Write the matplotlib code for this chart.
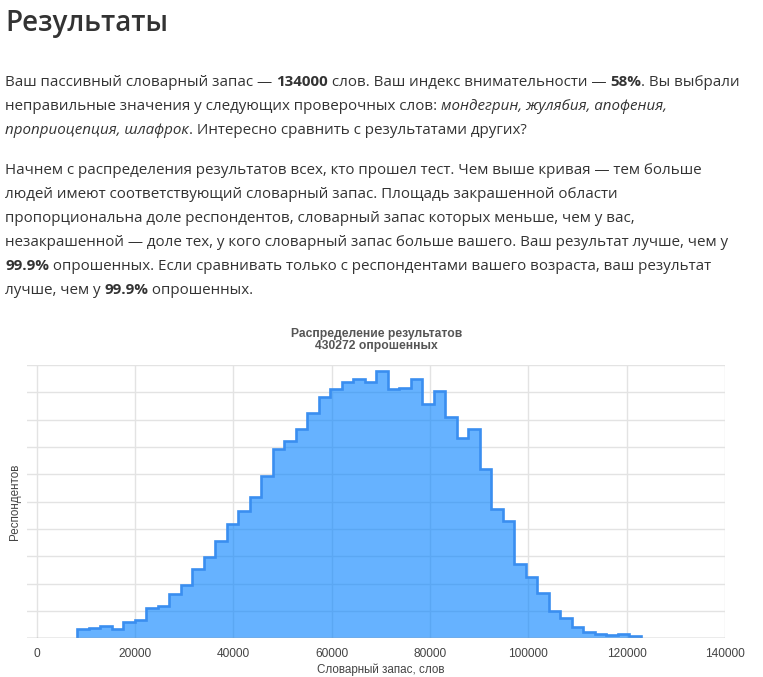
import matplotlib
matplotlib.use("Agg")
import matplotlib.pyplot as plt
import numpy as np

W, H = 763, 677

# --- data ----------------------------------------------------------------
BIN_START = 8250
BIN_WIDTH = 2340
respondents = [
    660, 740, 880, 700, 1220, 1320, 2200, 2360, 3260, 3920,
    5040, 5920, 7120, 8340, 9340, 10340, 11860, 13820, 14460, 15340,
    16520, 17680, 18220, 18740, 18980, 18740, 19580, 18220, 18340, 19000,
    17140, 18120, 16220, 14640, 15300, 12420, 9460, 8600, 5440, 4520,
    3300, 2020, 1460, 800, 440, 340, 220, 300, 200,
]
x_ticks = [0, 20000, 40000, 60000, 80000, 100000, 120000, 140000]
y_grid = list(range(0, 20001, 2000))

HEADING = "Результаты"
N = "normal"
B = "bold"
I = "italic"
para1 = [
    [("Ваш пассивный словарный запас — ", N), ("134000", B),
     (" слов. Ваш индекс внимательности — ", N), ("58%", B), (". Вы выбрали", N)],
    [("неправильные значения у следующих проверочных слов: ", N),
     ("мондегрин, жулябия, апофения,", I)],
    [("проприоцепция, шлафрок", I), (". Интересно сравнить с результатами других?", N)],
]
para2 = [
    [("Начнем с распределения результатов всех, кто прошел тест. Чем выше кривая — тем больше", N)],
    [("людей имеют соответствующий словарный запас. Площадь закрашенной области", N)],
    [("пропорциональна доле респондентов, словарный запас которых меньше, чем у вас,", N)],
    [("незакрашенной — доле тех, у кого словарный запас больше вашего. Ваш результат лучше, чем у", N)],
    [("99.9%", B), (" опрошенных. Если сравнивать только с респондентами вашего возраста, ваш результат", N)],
    [("лучше, чем у ", N), ("99.9%", B), (" опрошенных.", N)],
]
CHART_TITLE = "Распределение результатов\n430272 опрошенных"
X_LABEL = "Словарный запас, слов"
Y_LABEL = "Респондентов"

TEXT_C = "#333333"
FILL_C = "#0080ff"
EDGE_C = "#3a8ef0"
GRID_C = "#e3e3e3"
TICK_C = "#444444"

fig = plt.figure(figsize=(W / 100, H / 100), dpi=100)
fig.patch.set_facecolor("white")
renderer = fig.canvas.get_renderer()


def fx(px):
    return px / W


def fy(py):
    return 1 - py / H


def text_width(s, **kw):
    # sentinel bars keep leading/trailing spaces in the measurement
    t1 = fig.text(0, 0, "|" + s + "|", **kw)
    t2 = fig.text(0, 0, "||", **kw)
    w = t1.get_window_extent(renderer).width - t2.get_window_extent(renderer).width
    t1.remove()
    t2.remove()
    return w


def style_kw(style, size):
    kw = dict(fontfamily="Open Sans", fontsize=size, color=TEXT_C)
    if style == B:
        kw["fontweight"] = "bold"
    elif style == I:
        kw["fontstyle"] = "italic"
    return kw


def draw_runs(x, y, runs, size):
    for s, style in runs:
        kw = style_kw(style, size)
        fig.text(fx(x), fy(y), s, va="baseline", ha="left", **kw)
        x += text_width(s, **kw)


# fit body font so the first line spans what it does in the picture
w0 = sum(text_width(s, **style_kw(st, 11)) for s, st in para1[0])
body_fs = 11 * 733 / w0

head_kw = dict(fontfamily="Open Sans", fontweight="semibold", color=TEXT_C)
hw = text_width(HEADING, fontsize=23, **head_kw)
head_fs = 23 * 163 / hw
fig.text(fx(5), fy(31), HEADING, fontsize=head_fs, va="baseline", ha="left", **head_kw)

for k, line in enumerate(para1):
    draw_runs(5, 86 + 24 * k, line, body_fs)
for k, line in enumerate(para2):
    draw_runs(5, 174 + 24 * k, line, body_fs)

# --- chart ----------------------------------------------------------------
ax = fig.add_axes([fx(27), fy(638.3), fx(725) - fx(27), fy(365) - fy(638.3)])
edges = BIN_START + BIN_WIDTH * np.arange(len(respondents) + 1)

ax.set_xlim(-2000, 140000)
ax.set_ylim(0, 20000)
for v in y_grid[1:]:
    ax.axhline(v, color=GRID_C, lw=1, zorder=0)
for v in x_ticks:
    ax.axvline(v, color=GRID_C, lw=1, zorder=0)

ax.stairs(respondents, edges, fill=True, color=FILL_C, alpha=0.6, lw=0, zorder=2)
ax.stairs(respondents, edges, baseline=0, fill=False, color=EDGE_C, lw=1.9, zorder=3)
ax.axhline(0, color="#9a9a9a", lw=1, zorder=4)

for s in ax.spines.values():
    s.set_visible(False)
ax.set_xticks(x_ticks)
ax.set_xticklabels([str(v) for v in x_ticks])
ax.set_yticks([])
ax.tick_params(axis="x", length=0, pad=7, labelsize=8.6, labelcolor=TICK_C)
for lbl in ax.get_xticklabels():
    lbl.set_fontfamily("Liberation Sans")

fig.text(fx(376.5), fy(339.5), CHART_TITLE, ha="center", va="center",
         fontfamily="Liberation Sans", fontsize=8.7, fontweight="bold",
         color="#555555", linespacing=1.0)
fig.text(fx(381), fy(676), X_LABEL, ha="center", va="bottom",
         fontfamily="Liberation Sans", fontsize=8.4, color=TICK_C)
fig.text(fx(15), fy(501.5), Y_LABEL, ha="center", va="center", rotation=90,
         fontfamily="Liberation Sans", fontsize=8.4, color=TICK_C)

fig.savefig("out.png", dpi=100)
